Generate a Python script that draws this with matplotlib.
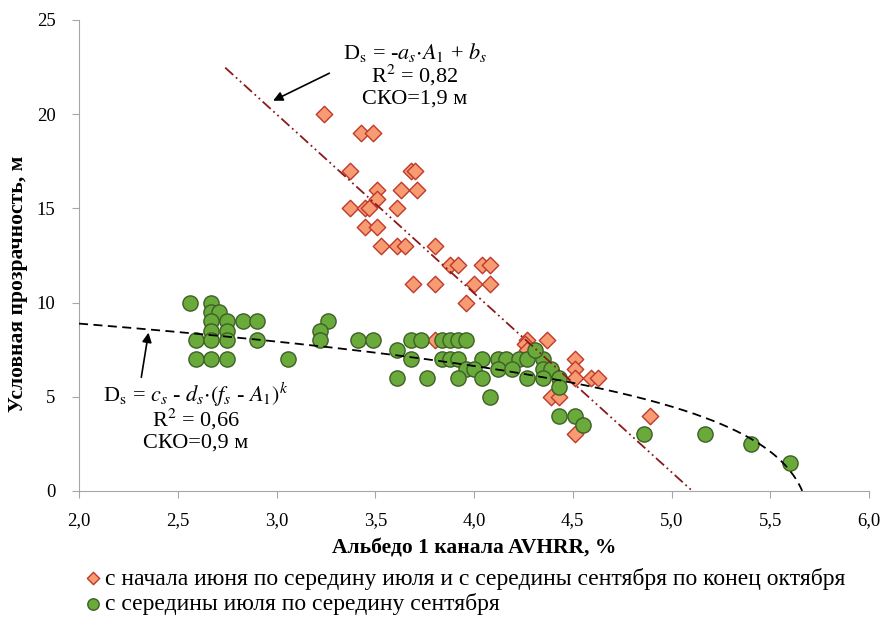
import numpy as np
import matplotlib
matplotlib.use("Agg")
import matplotlib.pyplot as plt

plt.rcParams['font.family'] = ['Liberation Serif', 'DejaVu Serif']
plt.rcParams['mathtext.fontset'] = 'stix'

# orange diamonds: June - mid July and mid September - end of October
albedo_a = [3.24, 3.43, 3.49, 3.37, 3.68, 3.70, 3.51, 3.63, 3.71, 3.51,
            3.37, 3.45, 3.47, 3.61, 3.45, 3.51, 3.53, 3.61, 3.65, 3.80,
            3.88, 3.92, 4.04, 4.08, 3.69, 3.80, 4.00, 4.08, 3.96, 3.80,
            4.27, 4.26, 4.37, 4.27, 4.51, 4.51, 4.51, 4.59, 4.63, 4.39,
            4.43, 4.51, 4.89]
depth_a = [20, 19, 19, 17, 17, 17, 16, 16, 16, 15.5,
           15, 15, 15, 15, 14, 14, 13, 13, 13, 13,
           12, 12, 12, 12, 11, 11, 11, 11, 10, 8,
           8, 7.8, 8, 7.5, 7, 6.5, 6, 6, 6, 5,
           5, 3, 4]

# green circles: mid July - mid September
albedo_b = [2.56, 2.67, 2.67, 2.71, 2.67, 2.75, 2.83, 2.90, 2.67, 2.75,
            2.59, 2.67, 2.75, 2.90, 2.59, 2.67, 2.75, 3.06, 3.26, 3.22,
            3.22, 3.41, 3.49, 3.68, 3.73, 3.84, 3.88, 3.92, 3.96, 3.61,
            3.68, 3.84, 3.88, 3.92, 4.04, 4.12, 4.16, 4.23, 4.27, 4.35,
            4.31, 3.96, 4.00, 4.12, 4.19, 4.35, 4.39, 3.61, 3.76, 3.92,
            4.04, 4.27, 4.35, 4.43, 4.43, 4.08, 4.43, 4.51, 4.55, 4.86,
            5.17, 5.40, 5.60]
depth_b = [10, 10, 9.5, 9.5, 9, 9, 9, 9, 8.5, 8.5,
           8, 8, 8, 8, 7, 7, 7, 7, 9, 8.5,
           8, 8, 8, 8, 8, 8, 8, 8, 8, 7.5,
           7, 7, 7, 7, 7, 7, 7, 7, 7, 7,
           7.5, 6.5, 6.5, 6.5, 6.5, 6.5, 6.5, 6, 6, 6,
           6, 6, 6, 6, 5.5, 5, 4, 4, 3.5, 3,
           3, 2.5, 1.5]

# trend line parameters
a_s, b_s = 9.5, 48.5
c_s, d_s, f_s, k = -6.85, 12.1, 5.72, 0.2

label_a = 'с начала июня по середину июля и с середины сентября по конец октября'
label_b = 'с середины июля по середину сентября'

fig = plt.figure(figsize=(8.85, 6.19), dpi=100)
ax = fig.add_axes([0.0893, 0.2068, 0.8927, 0.7609])

ax.scatter(albedo_a, depth_a, marker='D', s=70, facecolor='#F79B72',
           edgecolor='#C0392B', linewidth=1.0, zorder=3, label=label_a)
ax.scatter(albedo_b, depth_b, marker='o', s=120, facecolor='#6AAA3A',
           edgecolor='#3E5F28', linewidth=1.0, zorder=3, label=label_b)

# linear trend
xl = np.linspace(2.74, b_s / a_s, 50)
ax.plot(xl, -a_s * xl + b_s, color='#8B1A1A', lw=1.3,
        dashes=(6, 2, 1, 2, 1, 2), zorder=4)

# power trend
xc = np.linspace(2.0, 5.68, 400)
yc = c_s + d_s * (f_s - xc) ** k
ax.plot(xc[yc >= 0], yc[yc >= 0], color='black', lw=1.3, dashes=(5, 3), zorder=4)

# arrows to the trend lines
ax.annotate('', xy=(2.97, 20.65), xytext=(3.28, 22.24),
            arrowprops=dict(arrowstyle='-|>', color='black', lw=1.2, mutation_scale=14))
ax.annotate('', xy=(2.354, 8.55), xytext=(2.313, 5.89),
            arrowprops=dict(arrowstyle='-|>', color='black', lw=1.2, mutation_scale=14))

fs_note = 16
ax.text(3.70, 23.30, r'D$_\mathrm{s}$ = -$a_s{\cdot}A_1$ + $b_s$', ha='center', va='center', fontsize=fs_note)
ax.text(3.70, 22.05, r'R$^2$ = 0,82', ha='center', va='center', fontsize=fs_note)
ax.text(3.70, 20.80, 'СКО=1,9 м', ha='center', va='center', fontsize=fs_note)

ax.text(2.59, 5.10, r'D$_\mathrm{s}$ = $c_s$ - $d_s{\cdot}(f_s$ - $A_1)^k$', ha='center', va='center', fontsize=fs_note)
ax.text(2.59, 3.78, r'R$^2$ = 0,66', ha='center', va='center', fontsize=fs_note)
ax.text(2.59, 2.55, 'СКО=0,9 м', ha='center', va='center', fontsize=fs_note)

ax.set_xlim(2.0, 6.0)
ax.set_ylim(0, 25)
xt = np.arange(2.0, 6.01, 0.5)
ax.set_xticks(xt)
ax.set_xticklabels([f'{v:.1f}'.replace('.', ',') for v in xt])
ax.set_yticks(range(0, 26, 5))

for side in ['top', 'right']:
    ax.spines[side].set_visible(False)
for side in ['left', 'bottom']:
    ax.spines[side].set_color('#A6A6A6')
ax.tick_params(axis='both', colors='#A6A6A6', labelcolor='black', labelsize=13.5, length=5)
ax.tick_params(axis='x', pad=10)
ax.tick_params(axis='y', pad=12)

ax.set_xlabel('Альбедо 1 канала AVHRR, %', fontsize=15.5, fontweight='bold', labelpad=7)
ax.set_ylabel('Условная прозрачность, м', fontsize=15.5, fontweight='bold')
ax.yaxis.set_label_coords(-0.064, 0.44)

fig.legend(loc='upper left', bbox_to_anchor=(0.092, 0.083), frameon=False,
           fontsize=17, markerscale=0.75, handletextpad=0.0, handlelength=1.0,
           labelspacing=0.15, borderaxespad=0, borderpad=0)

fig.savefig('out.png', dpi=100)
